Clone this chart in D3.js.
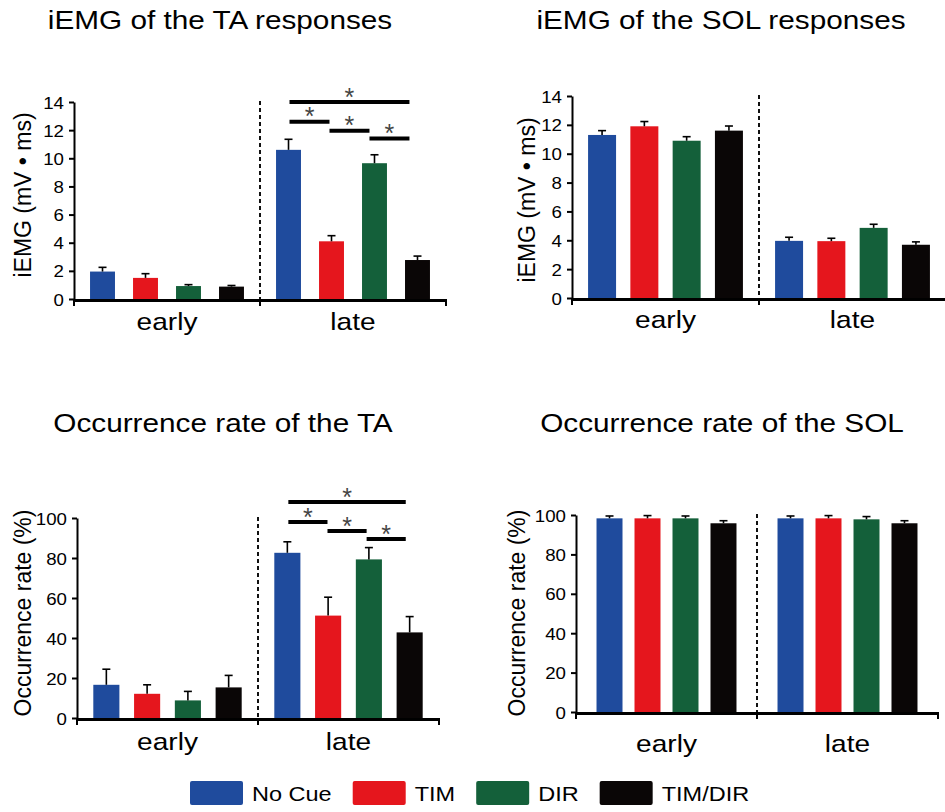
<!DOCTYPE html>
<html><head><meta charset="utf-8">
<script src="https://cdn.jsdelivr.net/npm/d3@7"></script>
<style>body{margin:0;background:#fff} svg{display:block} text{font-family:"Liberation Sans",Arial,Helvetica,sans-serif}</style>
</head><body><svg id="c" width="945" height="812"></svg>
<script>
// ---------- data ----------
const seriesNames = ["No Cue", "TIM", "DIR", "TIM/DIR"];
const seriesColors = ["#1F4B9D", "#E5161D", "#14603A", "#0A0606"];
const phases = ["early", "late"];

const taIemgMean = [[1.95, 1.5, 0.92, 0.88], [10.6, 4.1, 9.65, 2.77]];
const taIemgErr  = [[0.3, 0.3, 0.1, 0.08], [0.75, 0.4, 0.6, 0.28]];
const solIemgMean = [[11.3, 11.9, 10.9, 11.6], [3.96, 3.94, 4.86, 3.69]];
const solIemgErr  = [[0.3, 0.33, 0.28, 0.32], [0.25, 0.2, 0.25, 0.2]];
const taRateMean = [[16.6, 12.1, 8.8, 15.3], [82.6, 51.2, 79.3, 42.8]];
const taRateErr  = [[7.8, 4.5, 4.5, 6.0], [5.5, 9.2, 5.9, 7.9]];
const solRateMean = [[98.3, 98.3, 98.3, 95.8], [98.3, 98.3, 97.8, 95.8]];
const solRateErr  = [[1.2, 1.4, 1.2, 1.3], [1.2, 1.4, 1.4, 1.3]];

const iemgTicks = [0, 2, 4, 6, 8, 10, 12, 14];
const rateTicks = [0, 20, 40, 60, 80, 100];

// significance brackets (late phase): series index from/to, level in data units
const taIemgSig = [{from: 0, to: 3, level: 14.0}, {from: 0, to: 1, level: 12.6}, {from: 1, to: 2, level: 11.95}, {from: 2, to: 3, level: 11.4}];
const taRateSig = [{from: 0, to: 3, level: 108}, {from: 0, to: 1, level: 98}, {from: 1, to: 2, level: 93.5}, {from: 2, to: 3, level: 89.5}];

// ---------- layout ----------
const panels = [
  {title: "iEMG of the TA responses", tx: 220, ty: 29, ylabel: "iEMG (mV \u2022 ms)", lx: 31, ly: 195,
   mean: taIemgMean, err: taIemgErr, ticks: iemgTicks, yTop: 102, yBot: 299,
   x0: 74, gw: 186, pi: 0.42, po: 0.373, catY: 330, sig: taIemgSig, sigStep: 0.93},
  {title: "iEMG of the SOL responses", tx: 721, ty: 29, ylabel: "iEMG (mV \u2022 ms)", lx: 535, ly: 200,
   mean: solIemgMean, err: solIemgErr, ticks: iemgTicks, yTop: 96, yBot: 298,
   x0: 572, gw: 187, pi: 0.338, po: 0.38, catY: 328, sig: [], sigStep: 1},
  {title: "Occurrence rate of the TA", tx: 223, ty: 432, ylabel: "Occurrence rate (%)", lx: 31, ly: 613,
   mean: taRateMean, err: taRateErr, ticks: rateTicks, yTop: 518, yBot: 718,
   x0: 77, gw: 181, pi: 0.36, po: 0.40, catY: 750, sig: taRateSig, sigStep: 0.96},
  {title: "Occurrence rate of the SOL", tx: 722, ty: 432, ylabel: "Occurrence rate (%)", lx: 525, ly: 613,
   mean: solRateMean, err: solRateErr, ticks: rateTicks, yTop: 515, yBot: 712,
   x0: 576, gw: 181, pi: 0.316, po: 0.54, catY: 752, sig: [], sigStep: 1}
];

const svg = d3.select("#c");

function hText(parent, x, y, str, size, anchor, sx) {
  return parent.append("text")
    .attr("transform", `translate(${x},${y}) scale(${sx},1)`)
    .attr("text-anchor", anchor)
    .attr("font-size", size)
    .attr("fill", "#000")
    .text(str);
}

function drawPanel(p) {
  const g = svg.append("g");
  const yMax = p.ticks[p.ticks.length - 1];
  const y = d3.scaleLinear().domain([0, yMax]).range([p.yBot, p.yTop]);
  const xg = d3.scaleBand().domain(phases).range([p.x0, p.x0 + 2 * p.gw]).padding(0);
  const xs = d3.scaleBand().domain(seriesNames).range([0, p.gw]).paddingInner(p.pi).paddingOuter(p.po);
  const bw = xs.bandwidth();

  phases.forEach((ph, i) => {
    const gg = g.append("g").attr("transform", `translate(${xg(ph)},0)`);
    const rows = seriesNames.map((s, j) => ({s, v: p.mean[i][j], e: p.err[i][j], c: seriesColors[j]}));
    gg.selectAll("rect.bar").data(rows).join("rect").attr("class", "bar")
      .attr("x", d => xs(d.s)).attr("y", d => y(d.v))
      .attr("width", bw).attr("height", d => y(0) - y(d.v))
      .attr("fill", d => d.c);
    gg.selectAll("line.err").data(rows).join("line").attr("class", "err")
      .attr("x1", d => xs(d.s) + bw / 2).attr("x2", d => xs(d.s) + bw / 2)
      .attr("y1", d => y(d.v)).attr("y2", d => y(d.v + d.e))
      .attr("stroke", "#000").attr("stroke-width", 1.6);
    gg.selectAll("line.cap").data(rows).join("line").attr("class", "cap")
      .attr("x1", d => xs(d.s) + bw / 2 - 4).attr("x2", d => xs(d.s) + bw / 2 + 4)
      .attr("y1", d => y(d.v + d.e)).attr("y2", d => y(d.v + d.e))
      .attr("stroke", "#000").attr("stroke-width", 1.6);
    const cx = xg(ph) + (xs(seriesNames[0]) + xs(seriesNames[3]) + bw) / 2;
    hText(g, cx, p.catY, ph, 24, "middle", 1.17);
  });

  // divider
  g.append("line")
    .attr("x1", p.x0 + p.gw).attr("x2", p.x0 + p.gw)
    .attr("y1", p.yTop - 1).attr("y2", y(0))
    .attr("stroke", "#111").attr("stroke-width", 2).attr("stroke-dasharray", "4,3");

  // y axis
  const ax = d3.axisLeft(y).tickValues(p.ticks).tickSize(5).tickSizeOuter(0).tickPadding(6);
  const ag = g.append("g").attr("transform", `translate(${p.x0},0)`).call(ax)
    .attr("font-family", null).attr("font-size", null);
  ag.select(".domain").attr("stroke", "#000").attr("stroke-width", 2);
  ag.selectAll(".tick line").attr("stroke", "#000").attr("stroke-width", 2);
  ag.selectAll(".tick text")
    .attr("font-size", 17).attr("fill", "#000")
    .attr("x", -10 / 1.1).attr("dy", "0.36em")
    .attr("transform", `scale(1.1,1)`);

  // x axis
  const x1 = p.x0 + 2 * p.gw;
  g.append("line").attr("x1", p.x0 - 1).attr("x2", x1).attr("y1", y(0) + 1.5).attr("y2", y(0) + 1.5)
    .attr("stroke", "#000").attr("stroke-width", 3);
  [p.x0, p.x0 + p.gw, x1].forEach(xx => {
    g.append("line").attr("x1", xx).attr("x2", xx).attr("y1", y(0)).attr("y2", y(0) + 7)
      .attr("stroke", "#000").attr("stroke-width", 2);
  });

  // significance brackets
  const base = xg("late") + xs(seriesNames[0]) + bw / 2 + 1;
  const pos = k => base + k * xs.step() * p.sigStep;
  p.sig.forEach(s => {
    const xa = pos(s.from), xb = pos(s.to), yy = y(s.level);
    g.append("line").attr("x1", xa).attr("x2", xb).attr("y1", yy).attr("y2", yy)
      .attr("stroke", "#000").attr("stroke-width", 4);
    g.append("text").attr("x", (xa + xb) / 2).attr("y", yy + 3.5)
      .attr("text-anchor", "middle").attr("font-size", 25).attr("fill", "#444").text("*");
  });

  // titles
  hText(svg, p.tx, p.ty, p.title, 25, "middle", 1.19);
  // y label
  svg.append("text")
    .attr("transform", `translate(${p.lx},${p.ly}) rotate(-90) scale(1,1.08)`)
    .attr("text-anchor", "middle").attr("font-size", 23).attr("fill", "#000")
    .text(p.ylabel);
}

panels.forEach(drawPanel);

// legend
const lg = svg.append("g");
let lx = 190;
seriesNames.forEach((s, i) => {
  lg.append("rect").attr("x", lx).attr("y", 781).attr("width", 53).attr("height", 24)
    .attr("rx", 2).attr("fill", seriesColors[i]);
  const t = hText(lg, lx + 62, 801, s, 21, "start", 1.12);
  const w = t.node().getComputedTextLength() * 1.12;
  lx += 62 + w + 21;
});
</script>
</body></html>
